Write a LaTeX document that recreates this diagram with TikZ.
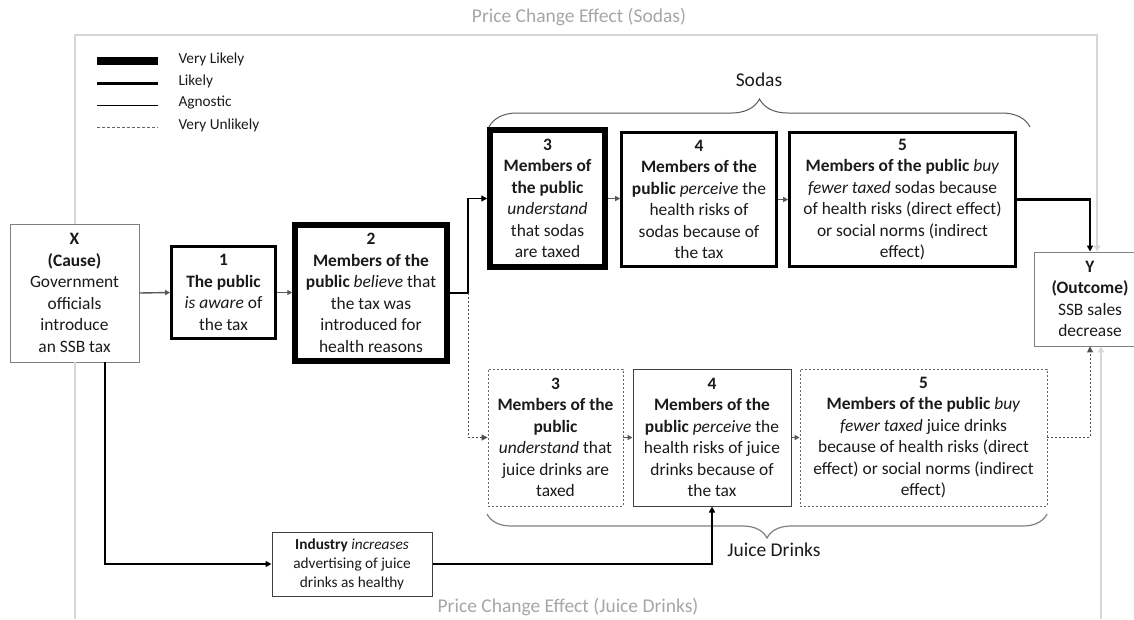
\documentclass[tikz,border=0pt]{standalone}
\usepackage{fontspec}
\setmainfont{Carlito}
\usetikzlibrary{arrows.meta,decorations.pathreplacing}
\newcommand{\bxfont}{\fontsize{17.4}{21.5}\selectfont}
\newcommand{\smfont}{\fontsize{15.3}{19}\selectfont}
\newcommand{\lgfont}{\fontsize{15.3}{18}\selectfont}
\newcommand{\bigfont}{\fontsize{19.5}{22}\selectfont}
\definecolor{framegray}{HTML}{D6D6D6}
\definecolor{labelgray}{HTML}{A6A6A6}
\definecolor{inkgray}{HTML}{1A1A1A}
\tikzset{
  box/.style={draw, fill=white, align=center, inner sep=1pt, font=\bxfont, text=inkgray},
  vlbox/.style={box, line width=5.5pt},
  lbox/.style={box, line width=2.6pt},
  abox/.style={box, draw=black!75, line width=1pt},
  vubox/.style={box, draw=black!60, line width=0.9pt, dash pattern=on 2pt off 2pt},
  endbox/.style={box, draw=black!50, line width=0.9pt},
  link/.style={-{Triangle[length=5pt,width=5pt]}, draw=black!65, line width=1.4pt},
  agnlink/.style={-{Triangle[length=6pt,width=6pt]}, line width=1.3pt},
  lklink/.style={-{Triangle[length=6pt,width=6pt]}, line width=2.4pt},
  unlink/.style={-{Triangle[length=6pt,width=6pt]}, draw=black!70, line width=1pt, dash pattern=on 2pt off 2pt},
  framelink/.style={-{Triangle[length=6pt,width=6pt]}, draw=framegray, line width=2pt},
  pricetext/.style={text=labelgray, font=\bigfont},
  bracetext/.style={font=\bigfont, text=inkgray},
  legtext/.style={anchor=west, font=\lgfont, text=inkgray},
  vlline/.style={line width=7.5pt},
  lline/.style={line width=3pt},
  aline/.style={line width=1pt},
  uline/.style={draw=black!60, line width=0.9pt, dash pattern=on 3pt off 2pt}
}
\begin{document}
\begin{tikzpicture}[x=1pt,y=-1pt]
\useasboundingbox (0,0) rectangle (1134,619);
% legend
\foreach \sty/\txt [count=\i] in {vlline/Very Likely,lline/Likely,aline/Agnostic,uline/Very Unlikely}
{
\draw[\sty] (97,39+22*\i) -- (158,39+22*\i);
\node[legtext] (leg\i) at (175,37+22*\i) {\txt};
}
% cause, steps and outcome
\node[endbox, minimum width=129pt, minimum height=138pt] (X) at (74.5,293)
  {\textbf{X}\\\textbf{(Cause)}\\Government\\officials\\introduce\\an SSB tax};
\node[lbox, minimum width=104pt, minimum height=92pt] (B1) at (223.5,292.5)
  {\textbf{1}\\\textbf{The public}\\\emph{is aware} of\\the tax};
\node[vlbox, minimum width=152pt, minimum height=136pt] (B2) at (371,293)
  {\textbf{2}\\\textbf{Members of the}\\\textbf{public} \emph{believe} that\\the tax was\\introduced for\\health reasons};
\node[vlbox, minimum width=115pt, minimum height=137pt] (S3) at (547.5,198.5)
  {\textbf{3}\\\textbf{Members of}\\\textbf{the public}\\\emph{understand}\\that sodas\\are taxed};
\node[lbox, minimum width=155pt, minimum height=134pt] (S4) at (699,199.5)
  {\textbf{4}\\\textbf{Members of the}\\\textbf{public} \emph{perceive} the\\health risks of\\sodas because of\\the tax};
\node[lbox, minimum width=226pt, minimum height=134pt] (S5) at (902.5,199.5)
  {\textbf{5}\\\textbf{Members of the public} \emph{buy}\\\emph{fewer taxed} sodas because\\of health risks (direct effect)\\or social norms (indirect\\effect)};
\node[endbox, minimum width=112pt, minimum height=94pt] (Y) at (1090,299)
  {\textbf{Y}\\\textbf{(Outcome)}\\SSB sales\\decrease};
\node[vubox, minimum width=135pt, minimum height=137pt] (J3) at (555.5,437.5)
  {\textbf{3}\\\textbf{Members of the}\\\textbf{public}\\\emph{understand} that\\juice drinks are\\taxed};
\node[abox, minimum width=158pt, minimum height=137pt] (J4) at (712,437.5)
  {\textbf{4}\\\textbf{Members of the}\\\textbf{public} \emph{perceive} the\\health risks of juice\\drinks because of\\the tax};
\node[vubox, minimum width=247pt, minimum height=137pt] (J5) at (923.5,437.5)
  {\textbf{5}\\\textbf{Members of the public} \emph{buy}\\\emph{fewer taxed} juice drinks\\because of health risks (direct\\effect) or social norms (indirect\\effect)};
\node[abox, font=\smfont, minimum width=160pt, minimum height=64pt] (Ind) at (352,564)
  {\textbf{Industry} \emph{increases}\\advertising of juice\\drinks as healthy};
% price change paths
\coordinate (topR) at (1097,35);
\coordinate (botR) at (1101,619);
\draw[framelink] (X.north) |- (topR) -- (topR |- Y.north);
\draw[draw=framegray, line width=2pt] (X.south) -- (X.south |- botR);
\draw[framelink] (botR) -- (botR |- Y.south);
\node[pricetext] (psodas) at (579,17) {Price Change Effect (Sodas)};
\node[pricetext] (pjuice) at (568,607) {Price Change Effect (Juice Drinks)};
% braces
\draw[black!65, line width=1pt, decorate, decoration={brace, amplitude=28pt}] (489,127) -- (1030,127);
\node[bracetext] (sodas) at (759,80) {Sodas};
\draw[black!50, line width=1.2pt, decorate, decoration={brace, amplitude=24pt}] (1047,514) -- (487,514);
\node[bracetext] (juice) at (774,550) {Juice Drinks};
% connectors
\coordinate (fork) at (468,293);
\draw[link] (X.east) -- (B1.west);
\draw[link] (B1.east) -- (B1.east -| B2.west);
\draw[agnlink] (B2.east) -- (fork) |- (S3.west);
\draw[unlink] (fork) |- (J3.west);
\draw[link] (S3.east) -- (S3.east -| S4.west);
\draw[link] (S4.east) -- (S5.west);
\draw[lklink] (S5.east) -| (Y.north);
\draw[link] (J3.east) -- (J4.west);
\draw[link] (J4.east) -- (J5.west);
\draw[unlink] (J5.east) -| (Y.south);
\draw[lklink] ([xshift=30.5pt]X.south) |- (Ind.west);
\draw[lklink] (Ind.east) -| (J4.south);
%\draw[link] (Ind.north) -- (J3.south);
\end{tikzpicture}
\end{document}
